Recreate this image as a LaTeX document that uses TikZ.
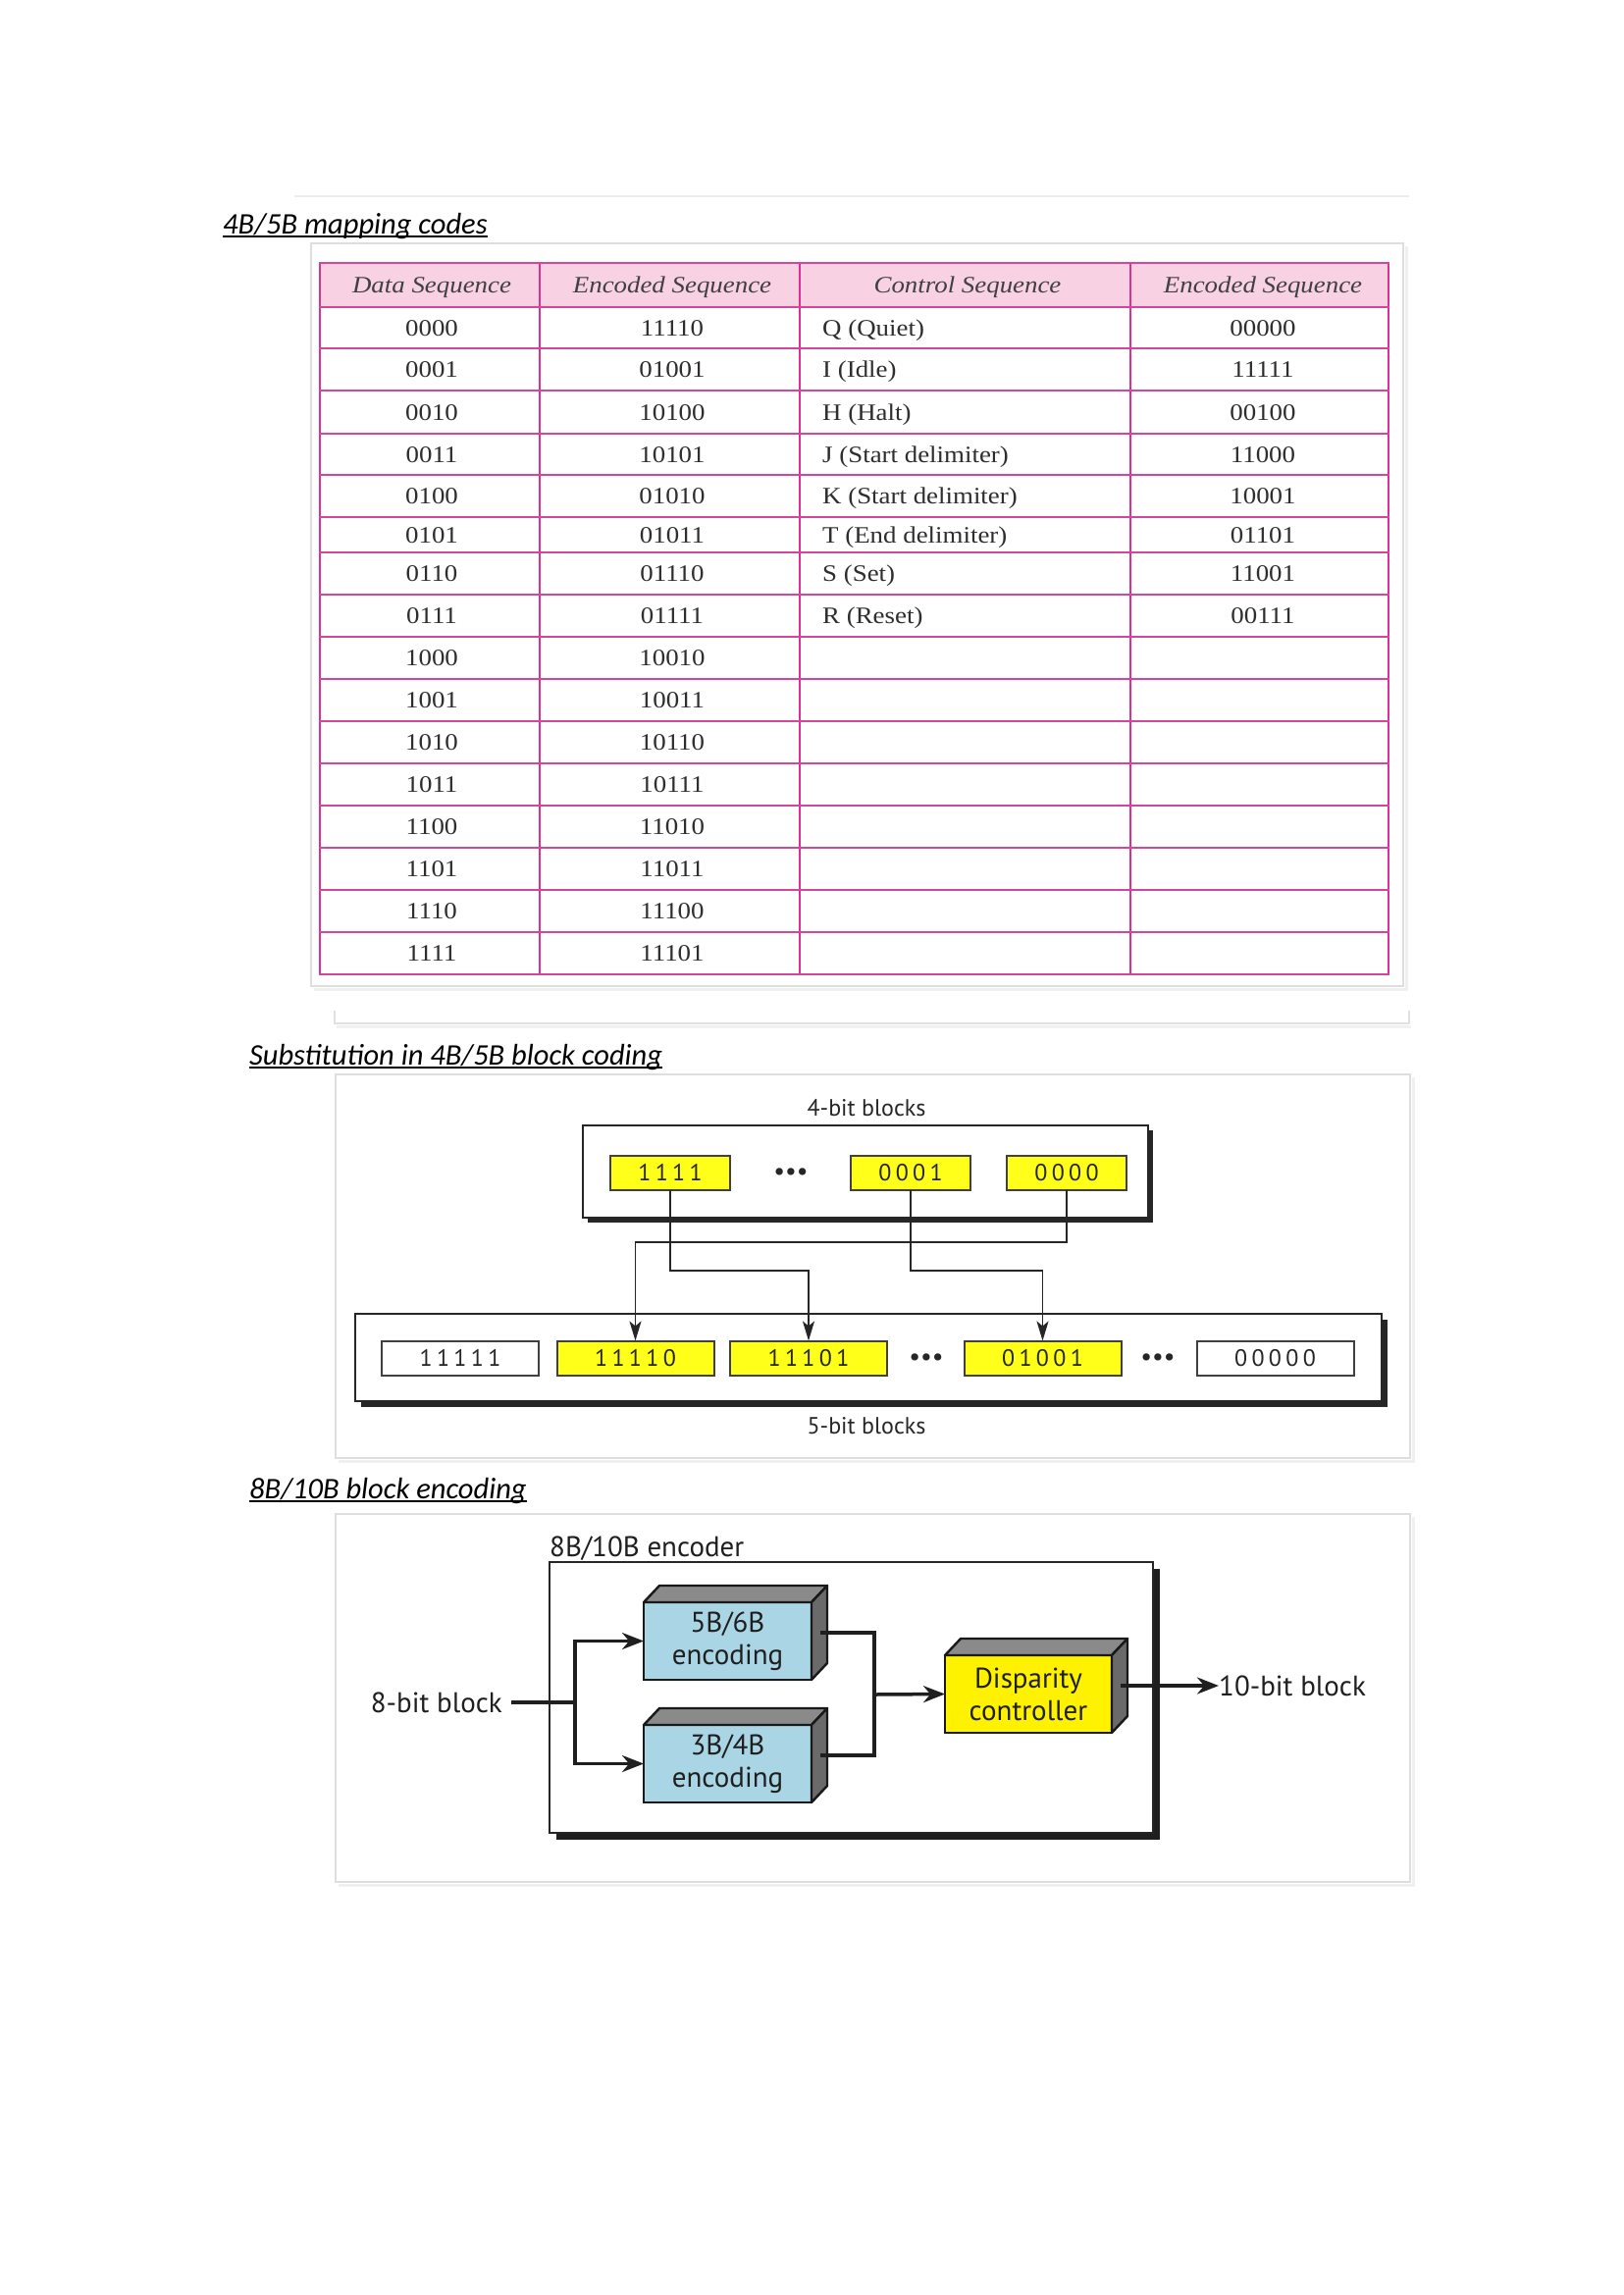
\documentclass[tikz,border=0pt]{standalone}
\usepackage{fontspec}
\setmainfont{Liberation Serif}
\newfontfamily\titlefont{Carlito}
\newfontfamily\tabfont[FakeStretch=1.12]{Liberation Serif}
\newfontfamily\diafont{PT Sans}
\newfontfamily\cellfont[LetterSpace=18]{PT Sans}
\usetikzlibrary{arrows.meta,calc,backgrounds}
\definecolor{hdrpink}{HTML}{F8D2E2}
\definecolor{lnpink}{HTML}{D2479C}
\definecolor{lnmag}{HTML}{DC2F98}
\definecolor{cellyel}{HTML}{FFFF1A}
\definecolor{blkblue}{HTML}{A9D5E4}
\definecolor{topgray}{HTML}{8A8A8A}
\definecolor{sidegray}{HTML}{6A6A6A}
\begin{document}
\begin{tikzpicture}[x=1pt,y=-1pt,
  sectitle/.style={font=\titlefont\itshape\fontsize{30.5}{36}\selectfont, anchor=base west, inner sep=0pt, text=black},
  uline/.style={line width=1.6pt, black},
  cont/.style={draw=black!13, line width=1.2pt},
  contshadow/.style={draw=black!6, line width=3pt},
  hline/.style={draw=lnpink, line width=2.6pt},
  vline/.style={draw=lnmag, line width=1.4pt},
  tab/.style={font=\tabfont\fontsize{24}{28}\selectfont, text=black!82, inner sep=0pt, anchor=base},
  tabh/.style={tab, font=\tabfont\itshape\fontsize{24}{28}\selectfont, text=black!75},
  dia/.style={font=\diafont\fontsize{24}{28}\selectfont, text=black!85, inner sep=0pt},
  cellw/.style={draw=black!75, line width=2pt, fill=white, minimum width=160pt, minimum height=35pt, inner sep=0pt, outer sep=0pt, font=\cellfont\fontsize{24}{26}\selectfont, text=black!85},
  celly/.style={cellw, fill=cellyel},
  frame/.style={draw=black!85, line width=1.6pt, fill=white, inner sep=0pt, outer sep=0pt},
  dots/.style={font=\diafont\fontsize{26}{28}\selectfont, inner sep=0pt, text=black!85},
  arr2/.style={line width=1.9pt, black!85, -{Stealth[length=20pt,width=12pt,inset=5pt]}},
  lbl3/.style={font=\diafont\fontsize{29}{33}\selectfont, text=black!88, inner sep=0pt},
  blk/.style={draw=black!90, line width=2.4pt, minimum width=171pt, minimum height=79pt, inner sep=0pt, outer sep=0pt, align=center, font=\diafont\fontsize{29}{33}\selectfont, text=black!88},
  face/.style={draw=black!90, line width=2.4pt, line join=round},
  thk/.style={line width=3.5pt, black!88},
  thkarr/.style={thk, -{Stealth[length=22pt,width=17pt]}}
]
\useasboundingbox (0,0) rectangle (1654,2339);

% ---------- faint page lines ----------
\draw[black!7, line width=2pt] (300,200) -- (1436,200);
\draw[black!12, line width=1.2pt] (341,1030) |- (1436,1043) -- (1436,1030);
\draw[black!6, line width=3pt] (343,1046) -- (1438,1046);

% ---------- Section 1 ----------
\node[sectitle] (t1) at (227,238) {4B/5B mapping codes};
\draw[uline] ([yshift=-3pt]t1.base west) -- ([yshift=-3pt]t1.base east);

\draw[contshadow] (320,1008) -- (1433,1008) -- (1433,251);
\draw[cont] (317,248) rectangle (1430,1005);

\fill[hdrpink] (326,268) rectangle (1415,313);
\foreach \x in {326,550,815,1152,1415} \draw[vline] (\x,268) -- (\x,993);
\foreach \y in {268,313,355,398,442,484,527,563,606,649,692,735,778,821,864,907,950,993}
  \draw[hline] (325,\y) -- (1416,\y);

\node[tabh] (h1) at (440,298.5) {Data Sequence};
\node[tabh] (h2) at (685,298.5) {Encoded Sequence};
\node[tabh] (h3) at (986,298.5) {Control Sequence};
\node[tabh] (h4) at (1287,298.5) {Encoded Sequence};

\foreach \y/\a/\b/\c/\d [count=\i] in {
  342/0000/11110/Q (Quiet)/00000,
  384.5/0001/01001/I (Idle)/11111,
  428/0010/10100/H (Halt)/00100,
  471/0011/10101/J (Start delimiter)/11000,
  513.5/0100/01010/K (Start delimiter)/10001,
  553/0101/01011/T (End delimiter)/01101,
  592.5/0110/01110/S (Set)/11001,
  635.5/0111/01111/R (Reset)/00111}{
  \node[tab] (da\i) at (440,\y) {\a};
  \node[tab] (ea\i) at (685,\y) {\b};
  \node[tab, anchor=base west] (ca\i) at (838,\y) {\c};
  \node[tab] (eb\i) at (1287,\y) {\d};
}
\foreach \y/\a/\b [count=\i from 9] in {
  678.5/1000/10010, 721.5/1001/10011, 764.5/1010/10110, 807.5/1011/10111,
  850.5/1100/11010, 893.5/1101/11011, 936.5/1110/11100, 979.5/1111/11101}{
  \node[tab] (da\i) at (440,\y) {\a};
  \node[tab] (ea\i) at (685,\y) {\b};
}

% ---------- Section 2 ----------
\node[sectitle] (t2) at (254,1085) {Substitution in 4B/5B block coding};
\draw[uline] ([yshift=-3pt]t2.base west) -- ([yshift=-3pt]t2.base east);
\draw[contshadow] (345,1489) -- (1440,1489) -- (1440,1098);
\draw[cont] (342,1095) rectangle (1437,1486);

\node[dia] (lab4) at (883,1129) {4-bit blocks};
\node[frame, minimum width=576pt, minimum height=94pt] (up) at (882,1194) {};
\node[frame, minimum width=1046pt, minimum height=89pt] (lo) at (885,1383.5) {};
\begin{scope}[on background layer]
  \fill[black!85] ([shift={(5,5)}]up.north west) rectangle ([shift={(5,5)}]up.south east);
  \fill[black!85] ([shift={(6,6)}]lo.north west) rectangle ([shift={(6,6)}]lo.south east);
\end{scope}

\node[celly, minimum width=122pt] (t1111) at (683,1195) {1111};
\node[dots] (d1) at (806,1197) {•••};
\node[celly, minimum width=122pt] (t0001) at (928,1195) {0001};
\node[celly, minimum width=122pt] (t0000) at (1087,1195) {0000};

\node[cellw] (b11111) at (469,1384) {11111};
\node[celly] (b11110) at (647.5,1384) {11110};
\node[celly] (b11101) at (824,1384) {11101};
\node[dots] (d2) at (944,1386) {•••};
\node[celly] (b01001) at (1062.5,1384) {01001};
\node[dots] (d3) at (1180,1386) {•••};
\node[cellw] (b00000) at (1299.5,1384) {00000};

\node[dia] (lab5) at (883,1453) {5-bit blocks};

\coordinate (laneA) at (0,1295);
\coordinate (laneB) at (0,1266);
\draw[arr2] (t1111.south) |- (b11101.north |- laneA) -- (b11101.north);
\draw[arr2] (t0001.south) |- (b01001.north |- laneA) -- (b01001.north);
\draw[arr2] (t0000.south) |- (b11110.north |- laneB) -- (b11110.north);

% ---------- Section 3 ----------
\node[sectitle] (t3) at (254,1527) {8B/10B block encoding};
\draw[uline] ([yshift=-3pt]t3.base west) -- ([yshift=-3pt]t3.base east);
\draw[contshadow] (345,1921) -- (1440,1921) -- (1440,1546);
\draw[cont] (342,1543) rectangle (1437,1918);

\node[lbl3, anchor=base west] (enclab) at (560,1586) {8B/10B encoder};
\node[frame, line width=2.6pt, minimum width=615pt, minimum height=276pt] (enc) at (867.5,1730) {};
\begin{scope}[on background layer]
  \fill[black!88] ([shift={(7,7)}]enc.north west) rectangle ([shift={(7,7)}]enc.south east);
\end{scope}

\node[blk, fill=blkblue] (b56) at (741.5,1672.5) {5B/6B\\encoding};
\node[blk, fill=blkblue] (b34) at (741.5,1797.5) {3B/4B\\encoding};
\node[blk, fill=yellow, minimum width=170pt] (dc) at (1048,1726.5) {Disparity\\controller};
\foreach \b in {b56,b34,dc}{
  \draw[face, fill=topgray] (\b.north west) -- ++(16,-17) -- ($(\b.north east)+(16,-17)$) -- (\b.north east) -- cycle;
  \draw[face, fill=sidegray] (\b.north east) -- ++(16,-17) -- ($(\b.south east)+(16,-17)$) -- (\b.south east) -- cycle;
}

\node[lbl3, anchor=east, inner xsep=9pt] (in8) at (521,1735) {8-bit block};
\coordinate (split) at (586,1735);
\coordinate (mrg) at (891,1727);
\draw[thk] (in8.east) -- (split);
\draw[thkarr] (split) |- (b56.west);
\draw[thkarr] (split) |- (b34.west);
\draw[thk] ($(b56.east)+(9,-8.5)$) -| (mrg);
\draw[thk] ($(b34.east)+(9,-8.5)$) -| (mrg);
\draw[thkarr] (mrg) -- (dc.west);
\node[lbl3, anchor=west] (out10) at (1242,1718) {10-bit block};
\draw[thkarr] ($(dc.east)+(9,-8.5)$) -- (out10.west);
\end{tikzpicture}
\end{document}
